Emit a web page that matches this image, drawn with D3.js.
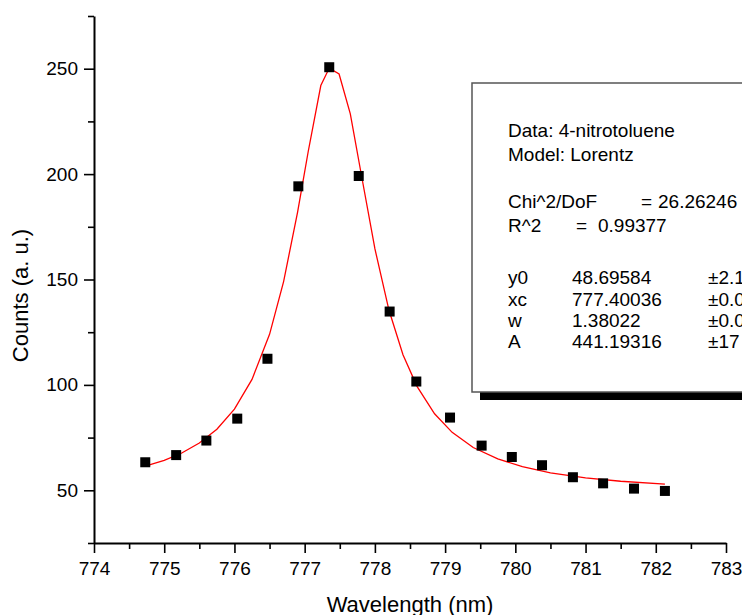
<!DOCTYPE html>
<html>
<head>
<meta charset="utf-8">
<script src="https://cdn.jsdelivr.net/npm/d3@7"></script>
<style>
  body { margin: 0; background: #fff; }
  svg { display: block; }
</style>
</head>
<body>
<script>
// Chart settings
const width = 742;
const height = 615;
const margin = { top: 16, right: 16, bottom: 72, left: 94 };

// Measured points
const wavelength = [774.73, 775.17, 775.60, 776.04, 776.47, 776.91, 777.35, 777.77, 778.21,
  778.59, 779.07, 779.52, 779.95, 780.38, 780.82, 781.25, 781.69, 782.13];
const counts = [63.3, 66.7, 73.6, 84.0, 112.4, 194.2, 250.7, 199.1, 134.8,
  101.6, 84.5, 71.2, 65.8, 61.9, 56.2, 53.3, 50.8, 49.7];

// Fit curve
const fitX = [774.73, 775.0, 775.25, 775.5, 775.75, 776.0, 776.25, 776.5, 776.7, 776.9, 777.05,
  777.23, 777.35, 777.49, 777.65, 777.8, 778.0, 778.2, 778.4, 778.6, 778.85, 779.1, 779.4,
  779.75, 780.1, 780.5, 781.0, 781.5, 782.13];
const fitY = [61.5, 64.2, 67.7, 72.4, 79.0, 88.5, 102.6, 124.0, 149.0, 182.1, 210.6,
  242.0, 250.3, 247.5, 228.6, 201.0, 164.6, 135.5, 114.3, 99.3, 86.3, 77.5, 70.3,
  64.9, 61.2, 58.3, 55.9, 54.3, 52.9];

// Ticks
const xMajor = [774, 775, 776, 777, 778, 779, 780, 781, 782, 783];
const xMinor = [774.5, 775.5, 776.5, 777.5, 778.5, 779.5, 780.5, 781.5, 782.5];
const yMajor = [50, 100, 150, 200, 250];
const yMinor = [25, 75, 125, 175, 225, 275];

// Fit report
const reportHead = ['Data: 4-nitrotoluene', 'Model: Lorentz'];
const reportStats = [['Chi^2/DoF', '=', '26.26246'], ['R^2', '=', '0.99377']];
const reportParams = [
  ['y0', '48.69584', '\u00b12.1'],
  ['xc', '777.40036', '\u00b10.0'],
  ['w', '1.38022', '\u00b10.0'],
  ['A', '441.19316', '\u00b117']
];

const font = 'Liberation Sans, Arial, sans-serif';

const svg = d3.select('body')
  .append('svg')
  .attr('width', width)
  .attr('height', height)
  .style('font-family', font);

const x = d3.scaleLinear()
  .domain([774, 783])
  .range([margin.left, width - margin.right]);

const y = d3.scaleLinear()
  .domain([25, 275])
  .range([height - margin.bottom, margin.top]);

// Minor ticks
svg.append('g')
  .attr('transform', `translate(0, ${y(25)})`)
  .call(d3.axisBottom(x).tickValues(xMinor).tickSize(6).tickFormat(''))
  .call(g => g.select('.domain').remove())
  .call(g => g.selectAll('line').attr('stroke-width', 1.6));

svg.append('g')
  .attr('transform', `translate(${x(774)}, 0)`)
  .call(d3.axisLeft(y).tickValues(yMinor).tickSize(6).tickFormat(''))
  .call(g => g.select('.domain').remove())
  .call(g => g.selectAll('line').attr('stroke-width', 1.6));

// Horizontal axis
svg.append('g')
  .attr('transform', `translate(0, ${y(25)})`)
  .call(d3.axisBottom(x).tickValues(xMajor).tickSize(10).tickSizeOuter(0).tickPadding(9))
  .call(g => g.select('.domain').attr('stroke-width', 2))
  .call(g => g.selectAll('line').attr('stroke-width', 1.6))
  .call(g => g.selectAll('text').attr('font-size', 19).attr('font-family', font).attr('fill', '#000'));

// Vertical axis
svg.append('g')
  .attr('transform', `translate(${x(774)}, 0)`)
  .call(d3.axisLeft(y).tickValues(yMajor).tickSize(10).tickSizeOuter(0).tickPadding(6))
  .call(g => g.select('.domain').attr('stroke-width', 2))
  .call(g => g.selectAll('line').attr('stroke-width', 1.6))
  .call(g => g.selectAll('text').attr('font-size', 19).attr('font-family', font).attr('fill', '#000'));

// Axis titles
svg.append('text')
  .attr('x', (x(774) + x(783)) / 2)
  .attr('y', 612)
  .attr('text-anchor', 'middle')
  .attr('font-size', 22)
  .text('Wavelength (nm)');

svg.append('text')
  .attr('transform', `translate(28, ${(y(25) + y(275)) / 2 + 16}) rotate(-90)`)
  .attr('text-anchor', 'middle')
  .attr('font-size', 22)
  .text('Counts (a. u.)');

// Fit line
const line = d3.line()
  .x((d, i) => x(fitX[i]))
  .y(d => y(d));

svg.append('path')
  .datum(fitY)
  .attr('fill', 'none')
  .attr('stroke', '#ff0000')
  .attr('stroke-width', 1.3)
  .attr('d', line);

// Points
svg.append('g')
  .selectAll('rect')
  .data(counts)
  .enter()
  .append('rect')
  .attr('x', (d, i) => x(wavelength[i]) - 5)
  .attr('y', d => y(d) - 5)
  .attr('width', 10)
  .attr('height', 10)
  .attr('fill', '#000');

// Report box with shadow
const box = svg.append('g');
box.append('rect')
  .attr('x', 480).attr('y', 91)
  .attr('width', 320).attr('height', 309)
  .attr('fill', '#000');
box.append('rect')
  .attr('x', 472).attr('y', 83)
  .attr('width', 320).attr('height', 309)
  .attr('fill', '#fff')
  .attr('stroke', '#555')
  .attr('stroke-width', 1.5);

const tx = box.append('g').attr('font-size', 19).attr('fill', '#000');

const headY = [137, 161];
reportHead.forEach((t, i) => {
  tx.append('text').attr('x', 508).attr('y', headY[i]).text(t);
});

const statY = [208, 232];
const eqX = [641, 576];
const valX = [658, 598];
reportStats.forEach((r, i) => {
  tx.append('text').attr('x', 508).attr('y', statY[i]).text(r[0]);
  tx.append('text').attr('x', eqX[i]).attr('y', statY[i]).text(r[1]);
  tx.append('text').attr('x', valX[i]).attr('y', statY[i]).text(r[2]);
});

const paramY = [284, 306, 327, 348];
reportParams.forEach((r, i) => {
  tx.append('text').attr('x', 508).attr('y', paramY[i]).text(r[0]);
  tx.append('text').attr('x', 572).attr('y', paramY[i]).text(r[1]);
  tx.append('text').attr('x', 708).attr('y', paramY[i]).text(r[2]);
});
</script>
</body>
</html>
